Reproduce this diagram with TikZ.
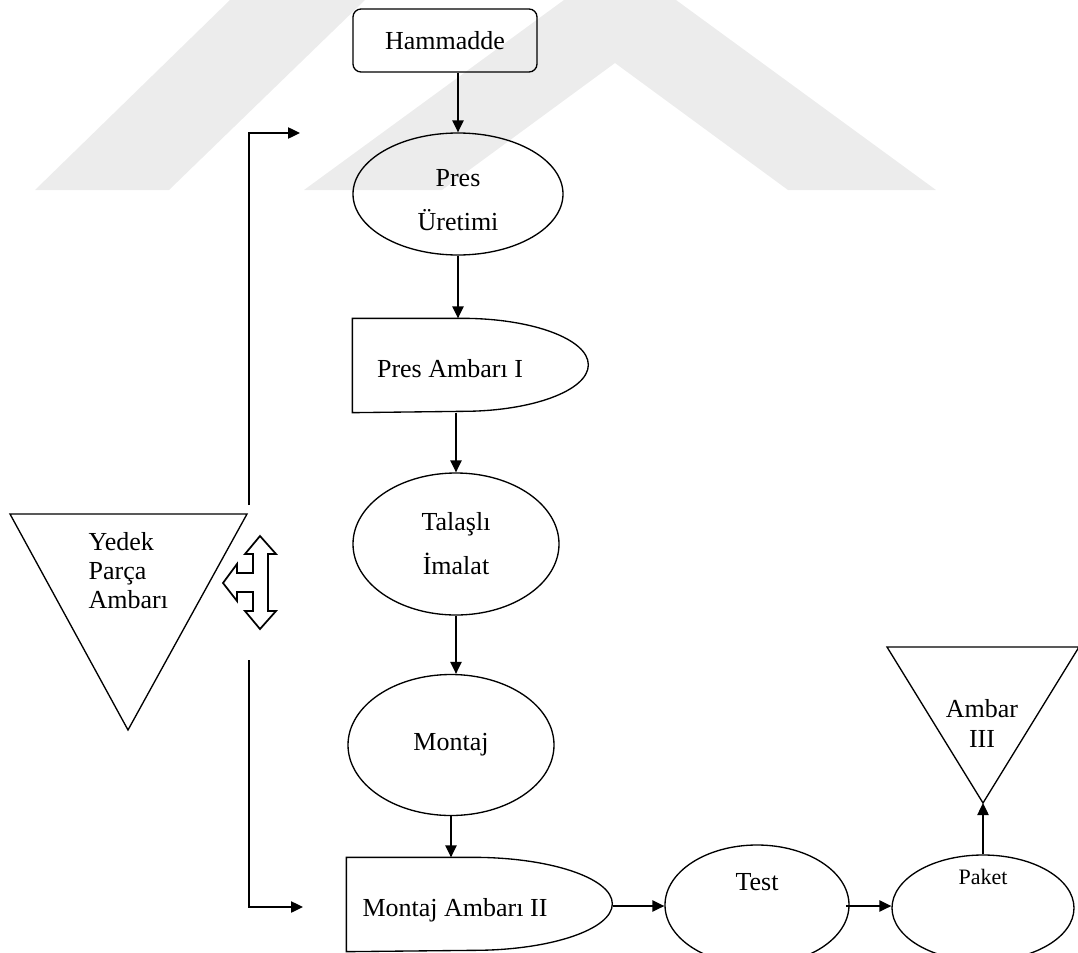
\documentclass[tikz,border=0pt]{standalone}
\usepackage{fontspec}
\setmainfont{Liberation Serif}
\usetikzlibrary{arrows.meta,shapes.geometric}
\definecolor{wm}{RGB}{236,236,236}
\begin{document}
\begin{tikzpicture}[x=0.75pt,y=-0.75pt,
  line width=1pt,
  every node/.style={font=\fontsize{19.5}{23}\selectfont, inner sep=0pt},
  arr/.style={-{Triangle[length=9pt,width=8.5pt]}},
  oval/.style={draw, ellipse, align=center},
  twoline/.style={align=center, font=\fontsize{19.5}{33}\selectfont},
  stack/.style={align=left, font=\fontsize{19.5}{21.75}\selectfont},
  ghost/.style={draw=none, rectangle}]
\useasboundingbox (0,0) rectangle (1078,953);
% watermark
\fill[wm] (35,190) -- (169,190) -- (365,0) -- (230,0) -- cycle;
\fill[wm] (304,190) -- (442,190) -- (615,63) -- (788,190) -- (936,190) -- (676,0) -- (564,0) -- cycle;
% nodes
\node[draw, rectangle, rounded corners=6pt, minimum width=138pt, minimum height=47.25pt] (ham) at (445,40.5) {Hammadde};
\node[oval, minimum width=157.5pt, minimum height=91.5pt] (pu) at (458,194) {};
\node[twoline] (put) at (458,200) {Pres\\Üretimi};
\node[ghost, minimum width=177pt, minimum height=69.75pt] (pa) at (471,365.5) {};
\draw (pa.north west) -- ++(110,0) arc[start angle=90, end angle=-90, x radius=94.5pt, y radius=34.875pt] -- (pa.south west) -- cycle;
\node (pat) at (450,369) {Pres Ambarı I};
\node[oval, minimum width=154.5pt, minimum height=106.5pt] (ti) at (456,544) {};
\node[twoline] (tit) at (456,544) {Talaşlı\\İmalat};
\node[oval, minimum width=154.5pt, minimum height=105.75pt] (mo) at (451,745) {Montaj};
\node[ghost, minimum width=199.5pt, minimum height=69.75pt] (ma) at (480,904.5) {};
\draw (ma.north west) -- ++(127,0) arc[start angle=90, end angle=-90, x radius=104.25pt, y radius=34.875pt] -- (ma.south west) -- cycle;
\node (mat) at (455,910) {Montaj Ambarı II};
\node[oval, minimum width=138pt, minimum height=90pt] (te) at (757,905) {};
\node (tet) at (757,882) {Test};
\node[oval, minimum width=136.5pt, minimum height=79.5pt] (pk) at (983,908) {};
\node[font=\fontsize{16.5}{20}\selectfont] (pkt) at (983,877) {Paket};
% triangles
\coordinate (y1) at (10,514); \coordinate (y2) at (247,514); \coordinate (y3) at (128,730);
\draw (y1) -- (y2) -- (y3) -- cycle;
\node[stack, anchor=west] (yt) at (88,571) {Yedek\\Parça\\Ambarı};
\coordinate (a1) at (887,647); \coordinate (a2) at (1079,647); \coordinate (a3) at (983,803);
\draw (a1) -- (a2) -- (a3) -- cycle;
\node[align=center, font=\fontsize{19.5}{22.5}\selectfont] (at) at (982,723) {Ambar\\III};
% double arrow
\draw[line width=1.3pt, line join=miter] (260,536) -- (276,554) -- (268,554) -- (268,611) -- (276,611) -- (260,629) -- (245,611) -- (253,611) -- (253,592) -- (237,592) -- (237,601) -- (223,583) -- (237,564) -- (237,573) -- (253,573) -- (253,554) -- (245,554) -- cycle;
% connectors
\draw[arr] (ham.south -| pu.north) -- (pu.north);
\draw[arr] (pu.south) -- (pu.south |- pa.north);
\draw[arr] (pa.south -| ti.north) -- (ti.north);
\draw[arr] (ti.south) -- (ti.south |- mo.north);
\draw[arr] (mo.south) -- (mo.south |- ma.north);
\coordinate (ma-e) at (613,906);
\draw[arr] (ma-e) -- (ma-e -| te.west);
\coordinate (te-e) at (846,906);
\draw[arr] (te-e) -- (te-e -| pk.west);
\draw[arr] (pk.north) -- (a3);
\coordinate (up0) at (249,505); \coordinate (up1) at (300,133);
\draw[arr] (up0) |- (up1);
\coordinate (lo0) at (249,660); \coordinate (lo1) at (303,907);
\draw[arr] (lo0) |- (lo1);
\end{tikzpicture}
\end{document}
